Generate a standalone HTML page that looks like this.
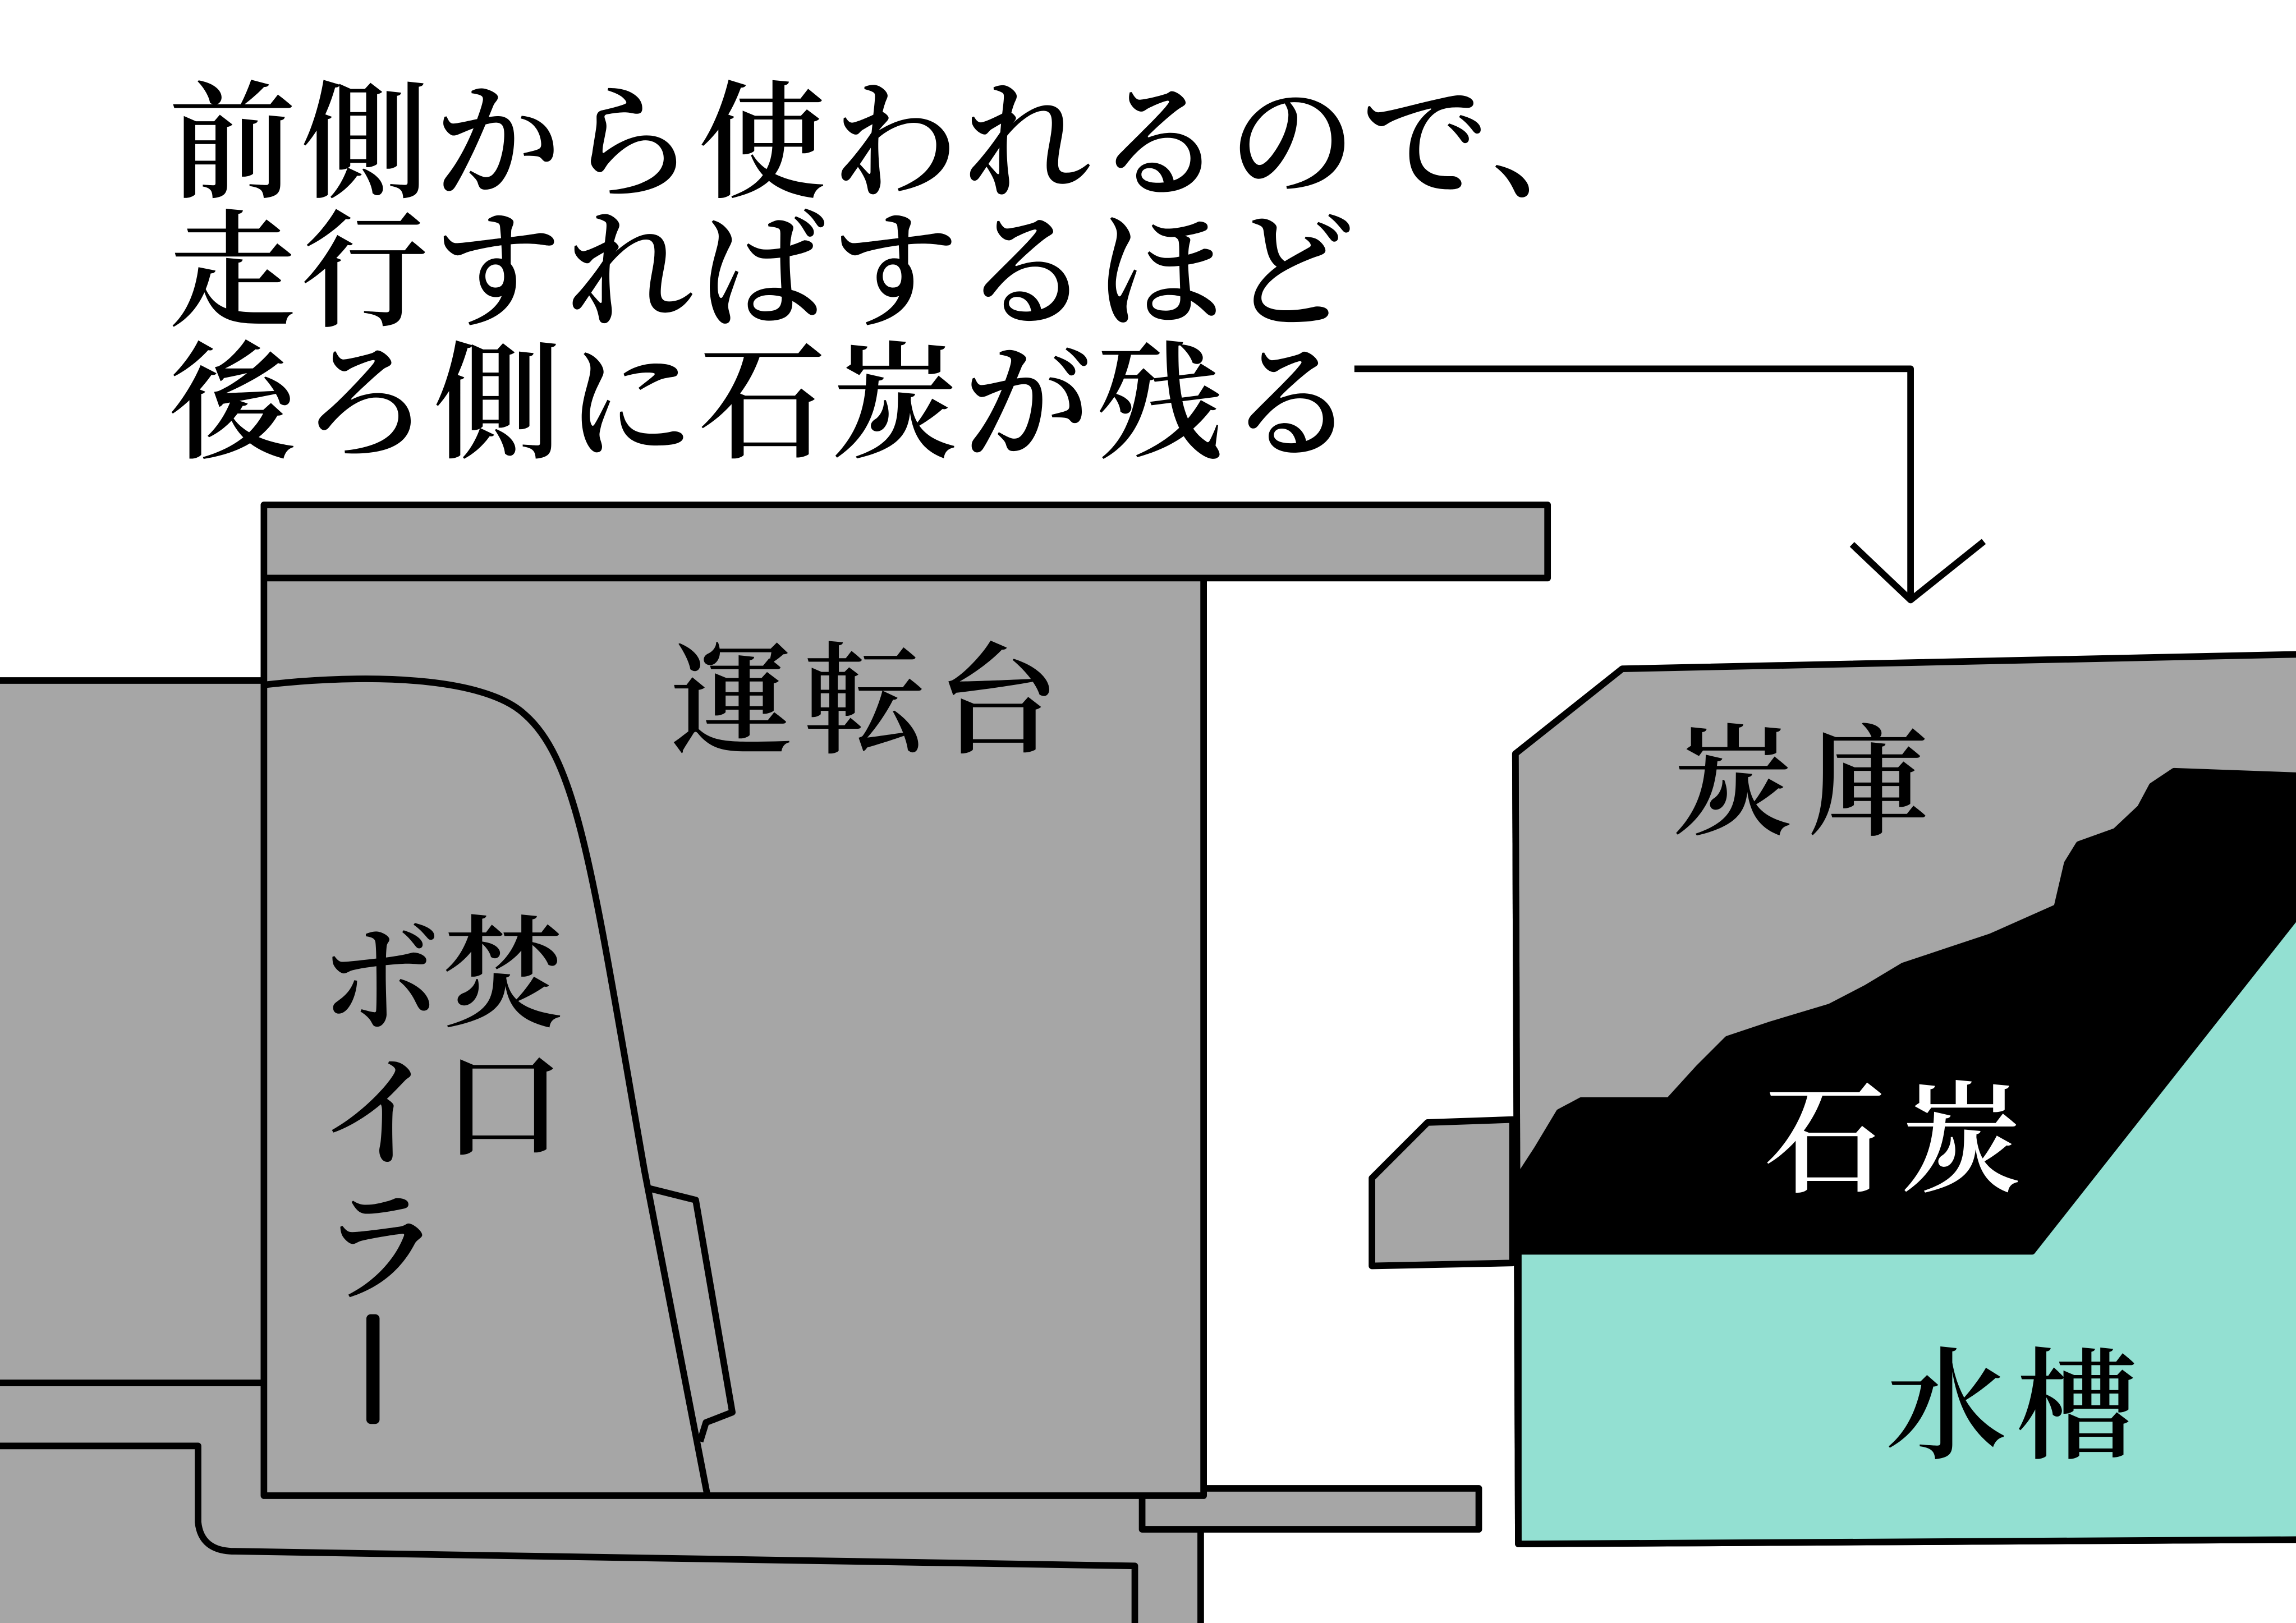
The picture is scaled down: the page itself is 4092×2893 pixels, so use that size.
<!DOCTYPE html>
<html><head><meta charset="utf-8"><style>html,body{margin:0;padding:0;background:#fff}svg{display:block}</style></head>
<body>
<svg width="4092" height="2893" viewBox="0 0 1568 1109" xmlns="http://www.w3.org/2000/svg" font-family="'Liberation Serif','Noto Serif CJK SC','Noto Serif CJK JP',serif">
<rect width="1568" height="1109" fill="#fff"/>
<g stroke="#000" stroke-width="4.5" stroke-linejoin="round" fill="#a6a6a6">
<rect x="-5" y="465" width="187" height="480"/>
<rect x="-5" y="945" width="825" height="170"/>
<path d="M-5,988 L135,988 L135,1040 Q137,1060 160,1060 L775,1070 L775,1115" fill="none"/>
<rect x="780" y="1017" width="230" height="28"/>
<rect x="180" y="345" width="877" height="50"/>
<rect x="180" y="395" width="642" height="627"/>
<path d="M180,468 C250,460 330,462 358,488 C395,520 405,600 440,800 L483,1022" fill="none"/>
<path d="M443,812 L475,820 L500,965 L482,972 L478,985" fill="none"/>
<path d="M925,252 L1305,252 L1305,410 M1265,372 L1305,410 L1355,370" fill="none"/>
<polygon points="1035,515 1108,457 1575,447 1575,1052 1037,1055"/>
<polygon points="1037,855 1388,855 1575,618 1575,1052 1037,1055" fill="#93e0d2"/>
<path d="M1037,805 L1050,785 L1065,760 L1080,752 L1140,752 L1160,730 L1180,710 L1210,700 L1250,688 L1275,675 L1300,660 L1330,650 L1360,640 L1405,620 L1412,590 L1420,577 L1445,568 L1462,552 L1470,537 L1485,527 L1568,530 L1568,625 L1388,855 L1037,855 Z" fill="#000"/>
<polygon points="1033,765 975,767 937,805 937,865 1033,863"/>
<line x1="1035" y1="515" x2="1037" y2="1055"/>
</g>
<g font-size="87" fill="#000" font-weight="600" letter-spacing="3.5">
<text x="115" y="128">前側から使われるので、</text>
<text x="115" y="216">走行すればするほど</text>
<text x="115" y="306">後ろ側に石炭が残る</text>
</g>
<g font-size="83" fill="#000" font-weight="600">
<text x="458" y="508" letter-spacing="8">運転台</text>
<text x="1142" y="564" letter-spacing="10">炭庫</text>
<text x="1288" y="990" letter-spacing="6">水槽</text>
<text x="1205" y="808" fill="#fff" letter-spacing="10">石炭</text>
<text x="302" y="695">焚</text>
<text x="302" y="785">口</text>
<text x="218" y="698">ボ</text>
<text x="218" y="790">イ</text>
<text x="218" y="882">ラ</text>
<rect x="250" y="898" width="9" height="75" rx="3"/>
</g>
</svg>
</body></html>
